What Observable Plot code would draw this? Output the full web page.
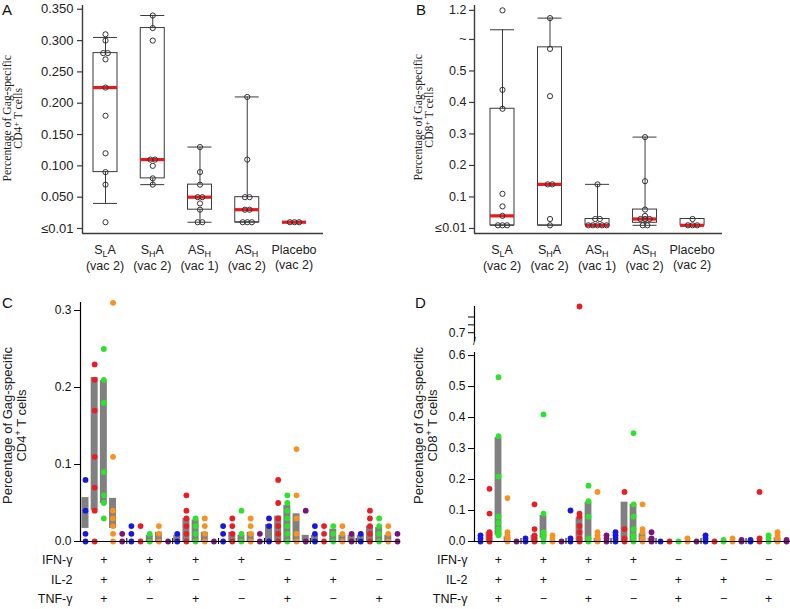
<!DOCTYPE html>
<html><head><meta charset="utf-8">
<script src="https://cdn.jsdelivr.net/npm/d3@7"></script>
<script src="https://cdn.jsdelivr.net/npm/@observablehq/plot@0.6"></script>
<style>
body{margin:0;background:#fff;}
#root{position:relative;width:790px;height:609px;overflow:hidden;font-family:"Liberation Sans",Arial,sans-serif;color:#222;}
.letter{position:absolute;font-size:15px;line-height:15px;color:#111;}
.cat{position:absolute;text-align:center;font-size:12.5px;line-height:15px;white-space:nowrap;color:#222;}
.sub{font-size:9px;position:relative;top:3px;}
</style></head><body><div id="root"></div>
<script>
// ---------------- data ----------------
const catMain = ["S", "S", "AS", "AS", "Placebo"];
const catSub  = ["L", "H", "H", "H", ""];
const catTail = ["A", "A", "", "", ""];
const catVac  = ["(vac 2)", "(vac 2)", "(vac 1)", "(vac 2)", "(vac 2)"];

// Panel A: CD4+ (box stats and individual values)
const aQ1     = [0.09, 0.08, 0.03, 0.01, null];
const aQ3     = [0.28, 0.32, 0.07, 0.05, null];
const aMedian = [0.225, 0.11, 0.05, 0.03, 0.01];
const aLow    = [0.04, 0.07, 0.01, 0.01, null];
const aHigh   = [0.305, 0.34, 0.13, 0.21, null];
const aPoints = [
  [0.31, 0.30, 0.28, 0.28, 0.27, 0.225, 0.18, 0.12, 0.09, 0.07, 0.01],
  [0.34, 0.32, 0.30, 0.11, 0.11, 0.10, 0.08, 0.07],
  [0.13, 0.09, 0.07, 0.05, 0.05, 0.04, 0.03, 0.01, 0.01],
  [0.21, 0.11, 0.05, 0.05, 0.03, 0.03, 0.01, 0.01, 0.01],
  [0.01, 0.01, 0.01]
];
const aTicks = [0, 0.05, 0.10, 0.15, 0.20, 0.25, 0.30, 0.35];
const aTickLabels = ["≤0.01", "0.050", "0.100", "0.150", "0.200", "0.250", "0.300", "0.350"];

// Panel B: CD8+
const bQ1     = [0.01, 0.01, 0.01, 0.018, 0.01];
const bQ3     = [0.38, 0.575, 0.03, 0.06, 0.03];
const bMedian = [0.04, 0.14, 0.01, 0.03, 0.01];
const bLow    = [0.01, 0.01, 0.01, 0.01, null];
const bHigh   = [0.80, 1.04, 0.14, 0.29, null];
const bPoints = [
  [1.2, 0.44, 0.38, 0.11, 0.07, 0.04, 0.01, 0.01, 0.01],
  [1.04, 0.57, 0.42, 0.14, 0.14, 0.03, 0.01],
  [0.14, 0.03, 0.03, 0.01, 0.01, 0.01, 0.01, 0.01],
  [0.29, 0.15, 0.06, 0.04, 0.03, 0.03, 0.03, 0.01, 0.01],
  [0.03, 0.01, 0.01, 0.01]
];
const bTicks = [0, 0.1, 0.2, 0.3, 0.4, 0.5, 0.6, 1.2];
const bTickLabels = ["≤0.01", "0.1", "0.2", "0.3", "0.4", "0.5", "~", "1.2"];

// Panels C / D: cytokine combinations
const rowNames = ["IFN-γ", "IL-2", "TNF-γ"];
const ifn = ["+", "+", "+", "+", "−", "−", "−"];
const il2 = ["+", "+", "−", "−", "+", "+", "−"];
const tnf = ["+", "−", "+", "−", "+", "−", "+"];
const seriesNames  = ["g1", "g2", "g3", "g4", "g5"];
const seriesColors = ["#1717e3", "#ec1c24", "#2be32b", "#f7921e", "#7d127d"];

const cDots = [
  [[0.08,0.04,0.01,0],[0.23,0.21,0.17,0.11,0.07,0.04,0],[0.25,0.21,0.18,0.09,0.06,0.05,0.03],[0.31,0.11,0.04,0.03,0.02,0.01,0],[0.01,0]],
  [[0.02,0.01,0],[0.02,0],[0.01,0],[0.02,0.01,0],[0]],
  [[0.01,0],[0.06,0.04,0.03,0.02,0.01,0],[0.03,0.02,0.01,0],[0.03,0.02,0.01,0],[0]],
  [[0.02,0.01,0],[0.03,0.02,0.01,0],[0.04,0.01,0],[0.03,0.02,0.01,0],[0.01,0]],
  [[0.03,0.02,0],[0.08,0.05,0.03,0.02,0.01,0],[0.06,0.05,0.04,0.03,0.02,0.01,0],[0.12,0.06,0.03,0.01,0],[0.04,0]],
  [[0.02,0.01,0],[0.02,0.01,0],[0.02,0.01,0],[0.02,0.01,0],[0.01,0]],
  [[0.01,0],[0.04,0.03,0.02,0.01,0],[0.03,0.02,0.01,0],[0.02,0.01,0],[0.01,0]]
];
const cBars = [
  [[0.017,0.057],[0.04,0.213],[0.049,0.209],[0.017,0.056],null],
  [null,null,[0,0.008],[0,0.012],null],
  [[0,0.008],[0,0.03],[0,0.028],[0,0.012],null],
  [null,[0,0.012],[0,0.008],[0,0.012],null],
  [[0,0.022],[0,0.033],[0,0.047],[0,0.036],[0,0.008]],
  [[0,0.008],null,[0,0.016],[0,0.008],[0,0.008]],
  [[0,0.008],[0,0.02],[0,0.018],[0,0.008],null]
];
const cTicks = [0, 0.1, 0.2, 0.3];
const cTickLabels = ["0.0", "0.1", "0.2", "0.3"];

const dDots = [
  [[0.02,0.01,0],[0.17,0.09,0.03,0.02,0.01,0],[0.53,0.34,0.21,0.08,0.06,0.04,0.025,0.02],[0.14,0.03,0.02,0.01,0],[0]],
  [[0.01,0],[0.12,0.04,0.02,0.01,0],[0.41,0.09,0.03,0.02,0.01,0],[0.02,0.01,0],[0]],
  [[0.1,0.01,0],[0.8,0.09,0.08,0.05,0.03,0.01,0],[0.18,0.13,0.08,0.01,0],[0.16,0.03,0.02,0.01,0],[0.02,0.01,0]],
  [[0.03,0.02,0.01,0],[0.16,0.04,0.01,0],[0.35,0.12,0.08,0.04,0.02,0.01,0],[0.12,0.04,0.03,0.01,0],[0.03,0.01,0]],
  [[0],[0],[0],[0.01,0],[0]],
  [[0.02,0.01,0],[0],[0.005,0],[0.01,0],[0.005,0]],
  [[0.005,0],[0.16,0.01,0],[0.02,0.01,0],[0.03,0.02,0.01,0],[0.005,0]]
];
const dBars = [
  [null,[0,0.03],[0.02,0.335],[0,0.015],null],
  [null,[0,0.02],[0.01,0.084],null,null],
  [null,[0,0.077],[0,0.127],[0,0.01],null],
  [null,[0,0.127],[0,0.12],[0,0.025],[0,0.01]],
  [null,null,null,null,null],
  [null,null,null,null,null],
  [null,null,null,[0,0.012],null]
];
const dTicks = [0, 0.1, 0.2, 0.3, 0.4, 0.5, 0.6, 0.7];
const dTickLabels = ["0.0", "0.1", "0.2", "0.3", "0.4", "0.5", "0.6", "0.7"];
const dMinorTicks = [0.73, 0.76];

// ---------------- helpers ----------------
const root = document.getElementById("root");
const SANS = '"Liberation Sans", Arial, sans-serif';
const SERIF = '"Liberation Serif", "Times New Roman", serif';

// broken-axis scale transforms (lower part linear, upper part compressed)
const identity = v => v;
const breakB = v => v <= 0.6 ? v : 0.6 + (v - 0.6) * 0.154;
const breakD = v => v < 0.63 ? v : 0.6484 + (v - 0.67) * 0.846;

function mount(node, left, top, w, h) {
  const wrap = document.createElement("div");
  wrap.style.cssText = `position:absolute;left:${left}px;top:${top}px;width:${w}px;height:${h}px;`;
  wrap.appendChild(node);
  root.appendChild(wrap);
}
function letter(t, left, top) {
  const d = document.createElement("div");
  d.className = "letter"; d.textContent = t;
  d.style.left = left + "px"; d.style.top = top + "px";
  root.appendChild(d);
}
function yTitle(lines, cx, cy, family, size, lh) {
  const d = document.createElement("div");
  const w = 260, h = lines.length * lh;
  d.style.cssText = `position:absolute;left:${cx - w/2}px;top:${cy - h/2}px;width:${w}px;height:${h}px;line-height:${lh}px;font-family:${family};font-size:${size}px;text-align:center;transform:rotate(-90deg);white-space:nowrap;color:#222;`;
  d.innerHTML = lines.join("<br>");
  root.appendChild(d);
}
function spread(values, step) {
  const counts = d3.rollup(values, v => v.length, d => d);
  const seen = new Map();
  return values.map(v => {
    const n = counts.get(v), k = seen.get(v) || 0;
    seen.set(v, k + 1);
    return (k - (n - 1) / 2) * step;
  });
}
// axis ticks live in the scale's (transformed) space; labels come from the label arrays
function tickAxis(ticks, labels, transform, opts) {
  const pos = ticks.map(transform);
  const lab = new Map(pos.map((p, i) => [p, labels ? labels[i] : ""]));
  return Plot.axisY({ticks: pos, tickFormat: p => lab.get(p), ...opts});
}

function boxPanel(o) {
  const tf = o.yTransform || identity;
  const stats = o.med.map((m, i) => ({i, q1: o.q1[i], q3: o.q3[i], med: m, lo: o.lo[i], hi: o.hi[i]}));
  const boxes = stats.filter(d => d.q1 != null);
  const whisk = stats.filter(d => d.lo != null);
  const pxPerUnit = (o.width - o.marginLeft - o.marginRight) / (o.xDomain[1] - o.xDomain[0]);
  const inset = (pxPerUnit - o.boxPx) / 2;
  const points = o.pts.flatMap((arr, i) => {
    const off = spread(arr, 4.6 / pxPerUnit);
    return arr.map((v, k) => ({i, v, off: off[k]}));
  });
  const ax = "#3a3a3a";
  return Plot.plot({
    width: o.width, height: o.height,
    marginLeft: o.marginLeft, marginRight: o.marginRight, marginTop: o.marginTop, marginBottom: o.marginBottom,
    x: {domain: o.xDomain, axis: null},
    y: {domain: o.yDomain, transform: o.yTransform, axis: null},
    style: {fontFamily: SANS, fontSize: o.fontSize + "px", color: "#222", background: "transparent", overflow: "visible"},
    marks: [
      Plot.ruleX(whisk, {x: "i", y1: "lo", y2: "hi", stroke: ax, strokeWidth: 1}),
      Plot.ruleY(whisk, {y: "hi", x1: d => d.i - 0.5, x2: d => d.i + 0.5, insetLeft: inset, insetRight: inset, stroke: ax}),
      Plot.ruleY(whisk, {y: "lo", x1: d => d.i - 0.5, x2: d => d.i + 0.5, insetLeft: inset, insetRight: inset, stroke: ax}),
      Plot.rect(boxes, {x1: d => d.i - 0.5, x2: d => d.i + 0.5, y1: "q1", y2: "q3", insetLeft: inset, insetRight: inset, fill: "white", stroke: ax}),
      Plot.ruleY(stats, {y: "med", x1: d => d.i - 0.5, x2: d => d.i + 0.5, insetLeft: inset, insetRight: inset, stroke: "#e8191f", strokeWidth: 3.2}),
      Plot.dot(points, {x: d => d.i + d.off, y: "v", r: 2.6, stroke: "#333", strokeWidth: 1, fill: "none"}),
      tickAxis(o.ticks, o.tickLabels, tf, {tickSize: o.tickSize, tickPadding: o.tickPadding, stroke: ax, strokeWidth: 1.2}),
      Plot.ruleX([o.xDomain[0]], {stroke: ax, strokeWidth: 1.4}),
      Plot.ruleY([o.yDomain[0]], {stroke: ax, strokeWidth: 1.4})
    ]
  });
}
function catLabels(chart, offsetLeft, top) {
  const sx = chart.scale("x");
  catMain.forEach((m, i) => {
    const x = offsetLeft + sx.apply(i);
    const d = document.createElement("div");
    d.className = "cat";
    d.style.left = (x - 40) + "px"; d.style.top = top + "px"; d.style.width = "80px";
    d.innerHTML = `${m}${catSub[i] ? `<span class="sub">${catSub[i]}</span>` : ""}${catTail[i]}<br>${catVac[i]}`;
    root.appendChild(d);
  });
}

function dotPanel(o) {
  const tf = o.yTransform || identity;
  const dots = o.dots.flatMap((grp, g) => grp.flatMap((vals, c) => vals.map(v => ({slot: g * 5 + c, series: seriesNames[c], v}))));
  const bars = o.bars.flatMap((grp, g) => grp.map((b, c) => b ? {slot: g * 5 + c, lo: b[0], hi: b[1]} : null).filter(Boolean));
  const groups = ifn.map((_, g) => ({g, center: g * 5 + 2.5, ifn: ifn[g], il2: il2[g], tnf: tnf[g]}));
  const bounds = groups.slice(1).map(d => d.g * 5);
  const keys = ["ifn", "il2", "tnf"];
  const rowDy = [22, 42, 61];
  const tableMarks = keys.flatMap((k, r) => [
    Plot.text(groups, {x: "center", text: k, frameAnchor: "bottom", dy: rowDy[r], fontSize: 12.5}),
    Plot.text([rowNames[r]], {text: d => d, frameAnchor: "bottom-left", textAnchor: "end", dx: o.labelDx, dy: rowDy[r], fontSize: 12.5})
  ]);
  return Plot.plot({
    width: o.width, height: o.height,
    marginLeft: o.marginLeft, marginRight: 0, marginTop: o.marginTop, marginBottom: o.marginBottom,
    x: {domain: o.xDomain, axis: null},
    y: {domain: o.yDomain, transform: o.yTransform, axis: null},
    color: {domain: seriesNames, range: seriesColors},
    style: {fontFamily: SANS, fontSize: "12px", color: "#111", background: "transparent", overflow: "visible"},
    marks: [
      Plot.rect(bars, {x1: "slot", x2: d => d.slot + 1, y1: "lo", y2: "hi", fill: "#808080", insetLeft: 1.1, insetRight: 1.1}),
      Plot.dot(dots, {x: d => d.slot + 0.5, y: "v", fill: "series", r: 2.9}),
      tickAxis(o.ticks, o.tickLabels, tf, {tickSize: 6, tickPadding: 3, stroke: "#000"}),
      ...(o.minor ? [tickAxis(o.minor, null, tf, {tickSize: 6, stroke: "#000"})] : []),
      ...o.axisLines(o.xDomain[0]),
      Plot.ruleY([0], {stroke: "#000", strokeWidth: 1.2}),
      Plot.ruleX(bounds, {x: d => d, y1: 0, y2: 0, insetTop: -3, insetBottom: -3, stroke: "#000"}),
      ...tableMarks
    ]
  });
}

// ---------------- Panel A ----------------
const chartA = boxPanel({
  q1: aQ1, q3: aQ3, med: aMedian, lo: aLow, hi: aHigh, pts: aPoints,
  width: 400, height: 290, marginLeft: 82, marginRight: 77, marginTop: 5, marginBottom: 57,
  xDomain: [-0.487, 4.614], yDomain: [-0.008, 0.356],
  ticks: aTicks, tickLabels: aTickLabels,
  tickSize: 5, tickPadding: 4, fontSize: 13, boxPx: 24
});
mount(chartA, 0, 0, 400, 290);
catLabels(chartA, 0, 242.5);
letter("A", 2, 1.5);
yTitle(["Percentage of Gag-specific", 'CD4<span style="font-size:0.7em;position:relative;top:-0.45em">+</span> T cells'], 13.3, 118, SERIF, 11.7, 11.3);

// ---------------- Panel B ----------------
const chartB = boxPanel({
  q1: bQ1, q3: bQ3, med: bMedian, lo: bLow, hi: bHigh, pts: bPoints,
  width: 390, height: 290, marginLeft: 74, marginRight: 68, marginTop: 5, marginBottom: 57,
  xDomain: [-0.589, 4.63], yDomain: [-0.016, breakB(1.3)], yTransform: breakB,
  ticks: bTicks, tickLabels: bTickLabels,
  tickSize: 5, tickPadding: 3, fontSize: 12.5, boxPx: 24
});
mount(chartB, 400, 0, 390, 290);
catLabels(chartB, 400, 242.5);
letter("B", 416, 1.5);
yTitle(["Percentage of Gag-specific", 'CD8<span style="font-size:0.7em;position:relative;top:-0.45em">+</span> T cells'], 423.5, 117, SERIF, 11.7, 11.3);

// ---------------- Panel C ----------------
const chartC = dotPanel({
  dots: cDots, bars: cBars, width: 400, height: 319, marginLeft: 80, marginTop: 12, marginBottom: 68,
  xDomain: [-0.045, 34.83], yDomain: [0, 0.3104], ticks: cTicks, tickLabels: cTickLabels, labelDx: -8,
  axisLines: x0 => [Plot.ruleX([x0], {stroke: "#000", strokeWidth: 1.2})]
});
mount(chartC, 0, 290, 400, 319);
letter("C", 2, 295);
yTitle(["Percentage of Gag-specific", 'CD4<span style="font-size:0.7em;position:relative;top:-0.45em">+</span> T cells'], 14, 425, SANS, 13, 13.5);

// ---------------- Panel D ----------------
const chartD = dotPanel({
  dots: dDots, bars: dBars, width: 390, height: 319, marginLeft: 74, marginTop: 16, marginBottom: 68,
  xDomain: [-0.167, 34.94], yDomain: [0, breakD(0.8)], yTransform: breakD,
  ticks: dTicks, tickLabels: dTickLabels, minor: dMinorTicks, labelDx: -7,
  axisLines: x0 => [
    Plot.ruleX([x0], {y1: 0, y2: 0.61, stroke: "#000", strokeWidth: 1.2}),
    Plot.ruleX([x0], {y1: 0.665, y2: 0.8, stroke: "#000", strokeWidth: 1.2}),
    Plot.text(["/"], {x: x0, y: 0.664, text: d => d, fontSize: 10})
  ]
});
mount(chartD, 400, 290, 390, 319);
letter("D", 415, 295);
yTitle(["Percentage of Gag-specific", 'CD8<span style="font-size:0.7em;position:relative;top:-0.45em">+</span> T cells'], 425, 425, SANS, 13, 13.5);
</script></body></html>
